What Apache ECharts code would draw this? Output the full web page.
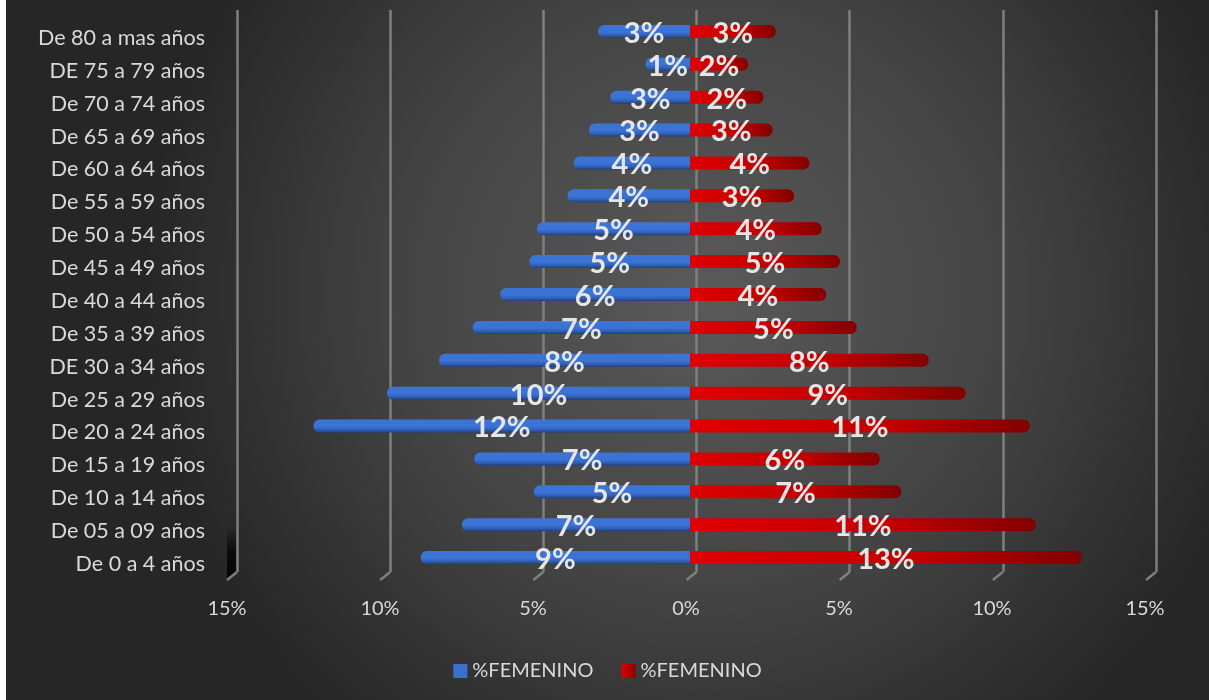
<!DOCTYPE html>
<html>
<head>
<meta charset="utf-8">
<script src="https://cdn.jsdelivr.net/npm/echarts@6/dist/echarts.min.js"></script>
<style>
html,body{margin:0;padding:0;background:#ffffff;}
#wrap{position:absolute;left:0;top:0;width:1209px;height:700px;background:#ffffff;}
#chart{position:absolute;left:6px;top:0;width:1203px;height:700px;}
</style>
</head>
<body>
<div id="wrap"><div id="chart"></div></div>
<script>
// Categories, top to bottom as displayed
const categories = [
  'De 80 a mas años','DE 75 a 79 años','De 70 a 74 años','De 65 a 69 años',
  'De 60 a 64 años','De 55 a 59 años','De 50 a 54 años','De 45 a 49 años',
  'De 40 a 44 años','De 35 a 39 años','DE 30 a 34 años','De 25 a 29 años',
  'De 20 a 24 años','De 15 a 19 años','De 10 a 14 años','De 05 a 09 años',
  'De 0 a 4 años'
];
// Left side (blue) percentages, shown as negative on the axis
const blueValues = [3.0, 1.45, 2.6, 3.3, 3.8, 4.0, 5.0, 5.25, 6.2, 7.1, 8.2, 9.9, 12.3, 7.05, 5.1, 7.45, 8.8];
// Right side (red) percentages
const redValues  = [2.8, 1.9, 2.4, 2.7, 3.9, 3.4, 4.3, 4.9, 4.45, 5.45, 7.8, 9.0, 11.1, 6.2, 6.9, 11.3, 12.8];
const seriesNames = ['%FEMENINO', '%FEMENINO '];
const xTicks = [-15, -10, -5, 0, 5, 10, 15];

const chart = echarts.init(document.getElementById('chart'));
const FONT = 'Lato, "Open Sans", sans-serif';
const textColor = '#d9d9d9';

const option = {
  animation: false,
  backgroundColor: {
    type: 'radial', x: 0.58, y: 0.42, r: 0.8,
    colorStops: [{offset: 0, color: '#5a5a5a'}, {offset: 0.55, color: '#434343'}, {offset: 1, color: '#262626'}]
  },
  grid: [
    {left: 225, right: 60, top: 15, bottom: 126, containLabel: false},
    {left: 231, right: 53, top: 10, bottom: 128, containLabel: false}
  ],
  legend: {
    bottom: 14, left: 'center',
    itemWidth: 14, itemHeight: 14, itemGap: 28,
    icon: 'rect',
    textStyle: {color: textColor, fontSize: 20, fontFamily: FONT},
    data: [
      {name: seriesNames[0], itemStyle: {color: '#3a70d0'}},
      {name: seriesNames[1], itemStyle: {color: {type:'linear',x:0,y:0,x2:1,y2:0,colorStops:[{offset:0,color:'#e00000'},{offset:1,color:'#8b0000'}]}}}
    ],
    formatter: function(n){ return n.trim(); }
  },
  xAxis: [
    {
      gridIndex: 0, type: 'value', min: xTicks[0], max: xTicks[xTicks.length-1], interval: 5,
      axisLine: {show: false}, axisTick: {show: false}, splitLine: {show: false},
      axisLabel: {
        color: textColor, fontSize: 20, fontFamily: FONT, margin: 25,
        padding: [0, 8, 0, 0],
        formatter: function(v){ return Math.abs(v) + '%'; }
      }
    },
    {
      gridIndex: 1, type: 'value', min: xTicks[0], max: xTicks[xTicks.length-1], interval: 5,
      axisLine: {show: false}, axisTick: {show: false}, axisLabel: {show: false},
      splitLine: {show: true, lineStyle: {color: '#7f7f7f', width: 2.5}}
    }
  ],
  yAxis: [
    {
      gridIndex: 0, type: 'category', data: categories, inverse: true,
      axisLine: {show: false}, axisTick: {show: false},
      axisLabel: {color: textColor, fontSize: 21.5, fontFamily: FONT, margin: 26,
                  verticalAlign: 'top', lineHeight: 13}
    },
    {
      gridIndex: 1, type: 'category', data: categories, inverse: true, show: false
    }
  ],
  series: [
    {
      name: seriesNames[0], type: 'bar', xAxisIndex: 0, yAxisIndex: 0,
      data: blueValues.map(v => -v),
      barWidth: 13, barGap: '-100%', z: 3,
      itemStyle: {
        borderRadius: [6, 0, 0, 6],
        color: {type:'linear', x:0, y:0, x2:0, y2:1, colorStops:[
          {offset:0, color:'#3d75d4'}, {offset:0.55, color:'#3a72d6'}, {offset:0.8, color:'#2f5fb5'}, {offset:1, color:'#1f3f80'}]}
      },
      label: {
        show: true, position: 'inside', offset: [0, 2],
        color: '#e6e6e6', fontSize: 29, fontWeight: 'bold', fontFamily: FONT,
        formatter: p => Math.round(Math.abs(p.value)) + '%'
      }
    },
    {
      name: seriesNames[1], type: 'bar', xAxisIndex: 0, yAxisIndex: 0,
      data: redValues,
      barWidth: 13, z: 3,
      itemStyle: {
        borderRadius: [0, 6, 6, 0],
        color: {type:'linear', x:0, y:0, x2:1, y2:0, colorStops:[
          {offset:0, color:'#e00000'}, {offset:0.6, color:'#c00000'}, {offset:1, color:'#820000'}]}
      },
      label: {
        show: true, position: 'inside', offset: [0, 2],
        color: '#e6e6e6', fontSize: 29, fontWeight: 'bold', fontFamily: FONT,
        formatter: p => Math.round(Math.abs(p.value)) + '%'
      }
    }
  ]
};
chart.setOption(option);

// 3D floor hints: short slanted feet under each back gridline, computed from the axis
const yb = 700 - 128;
const graphics = xTicks.map(t => {
  const px = chart.convertToPixel({xAxisIndex: 1}, t);
  return {type: 'line', shape: {x1: px, y1: yb, x2: px - 10, y2: yb + 8},
          style: {stroke: '#7f7f7f', lineWidth: 2.5}, z: 1};
});
// dark side wall at the left edge of the floor
const lx = chart.convertToPixel({xAxisIndex: 1}, xTicks[0]);
graphics.push({
  type: 'polygon', z: 0,
  shape: {points: [[lx - 10, yb - 42], [lx - 1, yb - 46], [lx - 1, yb], [lx - 10, yb + 7]]},
  style: {fill: {type:'linear', x:0, y:0, x2:0, y2:1, colorStops:[
    {offset:0, color:'rgba(0,0,0,0)'}, {offset:0.5, color:'rgba(0,0,0,0.75)'}, {offset:1, color:'rgba(0,0,0,0.9)'}]}}
});
chart.setOption({graphic: graphics});
</script>
</body>
</html>
